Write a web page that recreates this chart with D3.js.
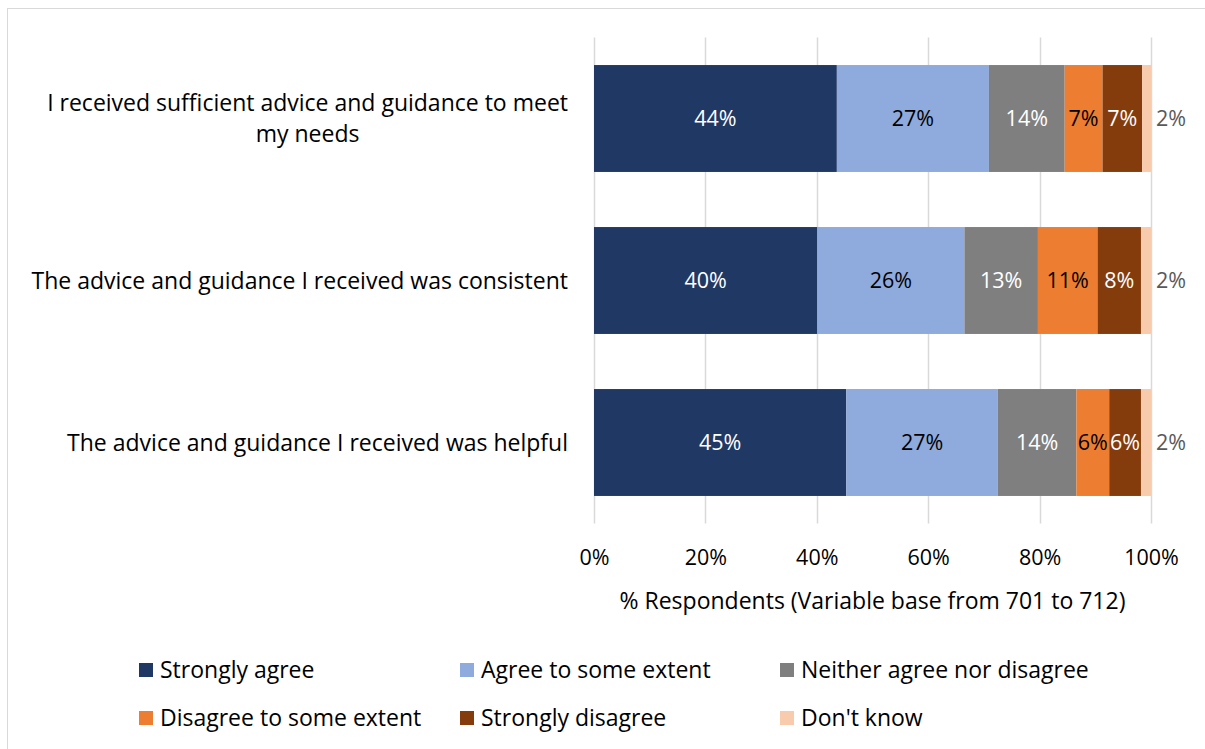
<!DOCTYPE html>
<html>
<head>
<meta charset="utf-8">
<script src="https://cdn.jsdelivr.net/npm/d3@7"></script>
<style>
  html, body { margin: 0; padding: 0; background: #fff; }
  svg { display: block; }
  text { font-family: "Open Sans", Lato, sans-serif; }
</style>
</head>
<body>
<svg id="chart" width="1205" height="749"></svg>
<script>
// Survey statements (top to bottom)
const statements = [
  "I received sufficient advice and guidance to meet my needs",
  "The advice and guidance I received was consistent",
  "The advice and guidance I received was helpful"
];

// Response categories, in stacking order
const responses = [
  "Strongly agree",
  "Agree to some extent",
  "Neither agree nor disagree",
  "Disagree to some extent",
  "Strongly disagree",
  "Don't know"
];

// Percentage of respondents per statement, one array per response
const stronglyAgree   = [43.6, 40.1, 45.3];
const agreeSome       = [27.3, 26.4, 27.2];
const neither         = [13.6, 13.2, 14.1];
const disagreeSome    = [6.8, 10.7, 5.9];
const stronglyDisagree= [7.1, 7.8, 5.7];
const dontKnow        = [1.6, 1.8, 1.8];

const xTicks = [0, 20, 40, 60, 80, 100];
const xTitle = "% Respondents (Variable base from 701 to 712)";

const colors = ["#203864", "#8FAADC", "#7F7F7F", "#ED7D31", "#843C0C", "#F8CBAD"];
const labelColors = ["#FFFFFF", "#000000", "#FFFFFF", "#000000", "#FFFFFF", "#595959"];

const FS_TEXT = 23;   // category labels, legend, axis title
const FS_NUM = 21.5;  // tick and value labels

const seriesValues = [stronglyAgree, agreeSome, neither, disagreeSome, stronglyDisagree, dontKnow];
const rows = statements.map((s, i) => {
  const r = { statement: s };
  responses.forEach((k, j) => { r[k] = seriesValues[j][i]; });
  return r;
});

const svg = d3.select("#chart");

// Chart frame
svg.append("rect")
  .attr("x", 7.5).attr("y", 8.5)
  .attr("width", 1205).attr("height", 760)
  .attr("fill", "none").attr("stroke", "#D9D9D9").attr("stroke-width", 1);

const x = d3.scaleLinear().domain([0, 100]).range([594, 1151]);
const y = d3.scaleBand().domain(statements).range([37.5, 523.5])
  .paddingInner(0.34).paddingOuter(0.17);

// Vertical gridlines
svg.append("g")
  .selectAll("line")
  .data(xTicks)
  .join("line")
  .attr("x1", d => Math.round(x(d)) + 0.5).attr("x2", d => Math.round(x(d)) + 0.5)
  .attr("y1", 37.5).attr("y2", 523.5)
  .attr("stroke", "#D9D9D9").attr("stroke-width", 1.5);

// X axis tick labels
const xAxis = d3.axisBottom(x).tickValues(xTicks).tickFormat(d => d + "%").tickSize(0).tickPadding(0);
const gx = svg.append("g").attr("transform", "translate(0,557)").call(xAxis);
gx.select(".domain").remove();
gx.selectAll("text")
  .attr("dy", "0.35em")
  .attr("font-size", FS_NUM)
  .attr("fill", "#000")
  .style("font-family", "'Open Sans', Lato, sans-serif");

svg.append("text")
  .attr("x", x(50)).attr("y", 601)
  .attr("dy", "0.35em")
  .attr("text-anchor", "middle")
  .attr("font-size", FS_TEXT)
  .attr("fill", "#000")
  .text(xTitle);

// Stacked bars
const stack = d3.stack().keys(responses);
const stacked = stack(rows);

const layers = svg.append("g")
  .selectAll("g")
  .data(stacked)
  .join("g")
  .attr("fill", (d, i) => colors[i]);

layers.selectAll("rect")
  .data(d => d.map(p => ({ p, key: d.key })))
  .join("rect")
  .attr("x", d => x(d.p[0]))
  .attr("width", d => x(d.p[1]) - x(d.p[0]))
  .attr("y", d => y(d.p.data.statement))
  .attr("height", y.bandwidth());

// Value labels
stacked.forEach((layer, i) => {
  const last = i === responses.length - 1;
  svg.append("g")
    .selectAll("text")
    .data(layer)
    .join("text")
    .attr("x", d => last ? x(d[1]) + 5 : (x(d[0]) + x(d[1])) / 2)
    .attr("y", d => y(d.data.statement) + y.bandwidth() / 2)
    .attr("dy", "0.35em")
    .attr("text-anchor", last ? "start" : "middle")
    .attr("font-size", FS_NUM)
    .attr("fill", labelColors[i])
    .text(d => Math.round(d[1] - d[0]) + "%");
});

// Category labels: wrapped lines centred within a block right-aligned to the axis
const catLines = [
  ["I received sufficient advice and guidance to meet", "my needs"],
  ["The advice and guidance I received was consistent"],
  ["The advice and guidance I received was helpful"]
];
const labelRight = 568;
statements.forEach((s, i) => {
  const lines = catLines[i];
  const cy = y(s) + y.bandwidth() / 2;
  const lh = 31;
  const t = svg.append("text")
    .attr("text-anchor", "middle")
    .attr("font-size", FS_TEXT)
    .attr("fill", "#000");
  const spans = lines.map((ln, k) => t.append("tspan")
    .attr("y", cy + (k - (lines.length - 1) / 2) * lh)
    .attr("dy", "0.35em")
    .text(ln));
  const maxW = d3.max(spans, sp => sp.node().getComputedTextLength());
  spans.forEach(sp => sp.attr("x", labelRight - maxW / 2));
});

// Legend
const legendPos = [
  [139, 670], [460, 670], [780, 670],
  [139, 718], [460, 718], [780, 718]
];
const legend = svg.append("g")
  .selectAll("g")
  .data(responses)
  .join("g")
  .attr("transform", (d, i) => `translate(${legendPos[i][0]},${legendPos[i][1]})`);
legend.append("rect")
  .attr("x", 0).attr("y", -7).attr("width", 14).attr("height", 14)
  .attr("fill", (d, i) => colors[i]);
legend.append("text")
  .attr("x", 21).attr("y", 0).attr("dy", "0.35em")
  .attr("font-size", FS_TEXT)
  .attr("fill", "#000")
  .text(d => d);
</script>
</body>
</html>
